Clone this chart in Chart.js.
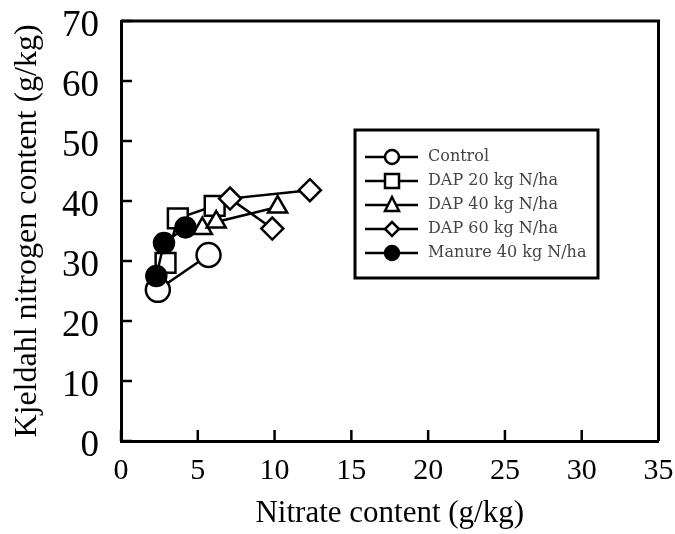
<!DOCTYPE html>
<html>
<head>
<meta charset="utf-8">
<script src="https://cdn.jsdelivr.net/npm/chart.js@4.4.1/dist/chart.umd.min.js"></script>
<style>
  html, body { margin: 0; padding: 0; background: #fff; }
  #wrap { width: 675px; height: 534px; }
</style>
</head>
<body>
<div id="wrap"><canvas id="myChart" width="675" height="534"></canvas></div>
<script>
let seriesNames = ["Control", "DAP 20 kg N/ha", "DAP 40 kg N/ha", "DAP 60 kg N/ha", "Manure 40 kg N/ha"];

let controlX = [2.4, 5.7];
let controlY = [25.2, 31.0];

let dap20X = [2.9, 3.7, 6.1];
let dap20Y = [29.7, 37.1, 39.2];

let dap40X = [5.3, 6.2, 10.2];
let dap40Y = [35.4, 36.5, 39.0];

let dap60X = [9.85, 7.1, 12.3];
let dap60Y = [35.4, 40.4, 41.8];

let manureX = [2.3, 2.8, 4.2];
let manureY = [27.5, 33.0, 35.6];

let xTicks = [0, 5, 10, 15, 20, 25, 30, 35];
let yTicks = [0, 10, 20, 30, 40, 50, 60, 70];

function pts(xs, ys) {
    return xs.map((x, i) => ({ x: x, y: ys[i] }));
}

let markerStyles = [
    { pointStyle: 'circle', radius: 12, fill: '#fff' },
    { pointStyle: 'rect', radius: 14, fill: '#fff' },
    { pointStyle: 'triangle', radius: 11, fill: '#fff' },
    { pointStyle: 'rectRot', radius: 11, fill: '#fff' },
    { pointStyle: 'circle', radius: 10, fill: '#000' }
];

let allX = [controlX, dap20X, dap40X, dap60X, manureX];
let allY = [controlY, dap20Y, dap40Y, dap60Y, manureY];

let datasets = seriesNames.map((name, i) => ({
    label: name,
    data: pts(allX[i], allY[i]),
    showLine: true,
    borderColor: '#000',
    borderWidth: 2.5,
    pointStyle: markerStyles[i].pointStyle,
    pointRadius: markerStyles[i].radius,
    pointBackgroundColor: markerStyles[i].fill,
    pointBorderColor: '#000',
    pointBorderWidth: 2.5,
    order: 5 - i
}));

// frame on top/right + inward tick marks
let innerTicks = {
    id: 'innerTicks',
    afterDatasetsDraw(chart) {
        let ctx = chart.ctx;
        let xs = chart.scales.x, ys = chart.scales.y;
        let area = chart.chartArea;
        ctx.save();
        ctx.strokeStyle = '#000';
        ctx.lineWidth = 3;
        ctx.beginPath();
        ctx.moveTo(area.left, area.top);
        ctx.lineTo(area.right, area.top);
        ctx.lineTo(area.right, area.bottom);
        ctx.stroke();
        ctx.lineWidth = 2.5;
        yTicks.forEach(v => {
            let py = ys.getPixelForValue(v);
            ctx.beginPath();
            ctx.moveTo(area.left, py);
            ctx.lineTo(area.left + 11, py);
            ctx.stroke();
        });
        xTicks.forEach(v => {
            let px = xs.getPixelForValue(v);
            ctx.beginPath();
            ctx.moveTo(px, area.bottom);
            ctx.lineTo(px, area.bottom - 11);
            ctx.stroke();
        });
        ctx.restore();
    }
};

// boxed legend with line through marker
let boxLegend = {
    id: 'boxLegend',
    afterDraw(chart) {
        let ctx = chart.ctx;
        ctx.save();
        ctx.strokeStyle = '#000';
        ctx.lineWidth = 3;
        ctx.fillStyle = '#fff';
        ctx.fillRect(355, 130, 243, 148);
        ctx.strokeRect(355, 130, 243, 148);
        ctx.font = '16px "DejaVu Serif"';
        ctx.textBaseline = 'middle';
        seriesNames.forEach((name, i) => {
            let y = 157 + i * 24;
            ctx.strokeStyle = '#000';
            ctx.lineWidth = 2.5;
            ctx.beginPath();
            ctx.moveTo(365, y);
            ctx.lineTo(418, y);
            ctx.stroke();
            let st = markerStyles[i];
            ctx.fillStyle = st.fill;
            ctx.beginPath();
            if (i === 0 || i === 4) {
                ctx.arc(392, y, 7, 0, Math.PI * 2);
            } else if (i === 1) {
                ctx.rect(385, y - 7, 14, 14);
            } else if (i === 2) {
                ctx.moveTo(392, y - 8);
                ctx.lineTo(399, y + 6);
                ctx.lineTo(385, y + 6);
                ctx.closePath();
            } else {
                ctx.moveTo(392, y - 7);
                ctx.lineTo(399, y);
                ctx.lineTo(392, y + 7);
                ctx.lineTo(385, y);
                ctx.closePath();
            }
            ctx.fill();
            ctx.stroke();
            ctx.fillStyle = '#444';
            ctx.fillText(name, 428, y);
        });
        ctx.restore();
    }
};

let myChart = document.getElementById("myChart").getContext('2d');

let chart = new Chart(myChart, {
    type: 'scatter',
    data: { datasets: datasets },
    plugins: [innerTicks, boxLegend],
    options: {
        responsive: false,
        animation: false,
        layout: { padding: { top: 21, right: 16, left: 0, bottom: 0 } },
        plugins: {
            legend: { display: false },
            tooltip: { enabled: false }
        },
        scales: {
            x: {
                type: 'linear',
                min: 0,
                max: 35,
                afterBuildTicks: s => { s.ticks = xTicks.map(v => ({ value: v })); },
                afterFit: s => { s.height = 93; s.paddingLeft = 0; s.paddingRight = 0; },
                grid: { display: false, drawTicks: false },
                border: { display: true, color: '#000', width: 3 },
                ticks: {
                    color: '#000',
                    padding: 12,
                    font: { family: '"Liberation Serif", "Times New Roman", serif', size: 30 }
                },
                title: {
                    display: true,
                    text: 'Nitrate content (g/kg)',
                    color: '#000',
                    padding: { top: 0, bottom: 2 },
                    font: { family: '"Liberation Serif", "Times New Roman", serif', size: 31 }
                }
            },
            y: {
                type: 'linear',
                min: 0,
                max: 70,
                afterBuildTicks: s => { s.ticks = yTicks.map(v => ({ value: v })); },
                afterFit: s => { s.width = 121; s.paddingTop = 0; s.paddingBottom = 0; },
                grid: { display: false, drawTicks: false },
                border: { display: true, color: '#000', width: 3 },
                ticks: {
                    color: '#000',
                    padding: 22,
                    labelOffset: 5,
                    font: { family: '"Liberation Serif", "Times New Roman", serif', size: 37 }
                },
                title: {
                    display: true,
                    text: 'Kjeldahl nitrogen content (g/kg)',
                    color: '#000',
                    padding: { top: 8, bottom: 0 },
                    font: { family: '"Liberation Serif", "Times New Roman", serif', size: 32 }
                }
            }
        }
    }
});
</script>
</body>
</html>
